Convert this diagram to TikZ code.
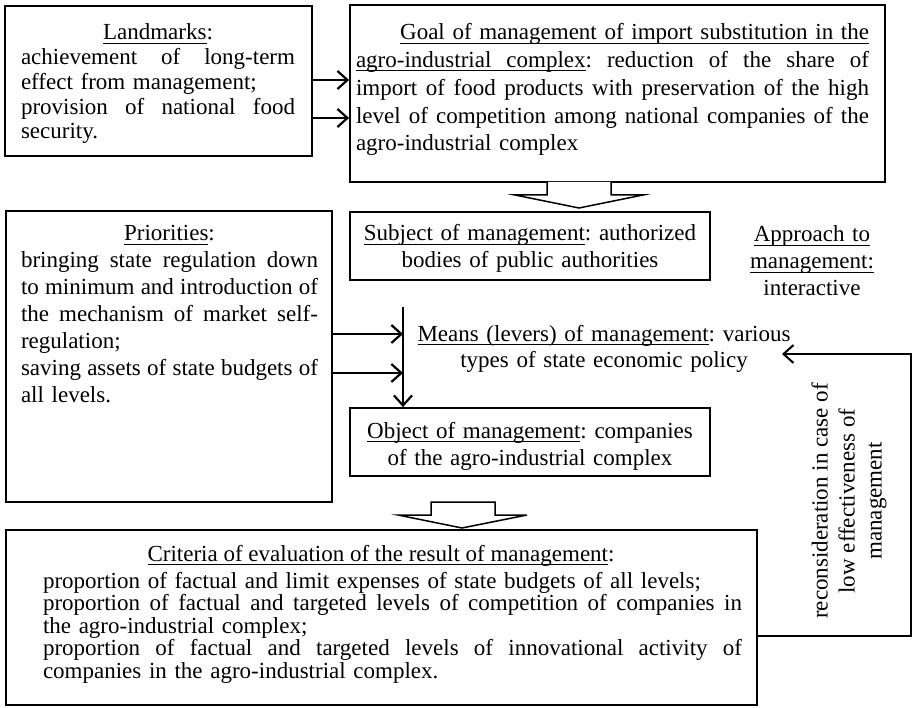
\documentclass[tikz,border=0pt]{standalone}
\usepackage{fontspec}
\setmainfont{Liberation Serif}
\usetikzlibrary{arrows.meta,calc}
\frenchspacing
\newcommand{\jl}[1]{\makebox[\linewidth][s]{\spaceskip=0pt\xspaceskip=0pt #1}}
\newcommand{\cl}[1]{\makebox[\linewidth][c]{#1}}
\newcommand{\rl}[1]{\makebox[\linewidth][r]{#1}}
\newcommand{\myul}[1]{\leavevmode\setbox0\hbox{#1}\rlap{\rule[-3.7pt]{\wd0}{1.1pt}}\box0}
\newcommand{\us}{\leaders\hrule height -2.6pt depth 3.7pt\hskip\fontdimen2\font plus\fontdimen3\font minus\fontdimen4\font}
\tikzset{
  box/.style={draw, line width=1.8pt, inner sep=0pt},
  txt/.style={inner sep=0pt, font={\fontsize{23}{27}\selectfont\frenchspacing}},
  arr/.style={line width=1.9pt, -{Straight Barb[length=10pt,width=18pt,line width=2.2pt]}},
  fb/.style={line width=1.4pt, -{Straight Barb[length=10pt,width=18pt,line width=2pt]}},
  hollow/.style={draw, line width=1.5pt, fill=white, line join=miter}
}
\begin{document}
\begin{tikzpicture}[x=1pt,y=-1pt]
\useasboundingbox (0,0) rectangle (912,708);
% boxes
\node[box, minimum width=307pt, minimum height=150pt] (lm) at (158.5,81) {};
\node[box, minimum width=535pt, minimum height=177pt] (goal) at (617.5,93.5) {};
\node[box, minimum width=360pt, minimum height=68pt] (subj) at (530,246) {};
\node[box, minimum width=326pt, minimum height=291pt] (prio) at (169,356.5) {};
\node[box, minimum width=360pt, minimum height=68pt] (obj) at (530,442) {};
\node[box, minimum width=751pt, minimum height=175pt] (crit) at (381.5,617.5) {};
% texts
\node[txt, text width=274pt, align=left, anchor=base, font={\fontsize{23}{24.75}\selectfont\frenchspacing}] (lmtext) at (158,40) {%
\cl{\myul{Landmarks}:}\\
\jl{achievement of long-term}\\
effect from management;\\
\jl{provision of national food}\\
security.};
\node[txt, text width=513pt, align=left, anchor=base, font={\fontsize{23}{27.75}\selectfont\frenchspacing}] (goaltext) at (612.5,40) {%
\rl{\myul{Goal of management of import substitution in the}}\\
\jl{\myul{agro-industrial}\us\myul{complex}: reduction of the share of}\\
\jl{import of food products with preservation of the high}\\
\jl{level of competition among national companies of the}\\
agro-industrial complex};
\node[txt, text width=360pt, align=center, anchor=base] (subjtext) at (530,241) {%
\myul{Subject of management}: authorized\\ bodies of public authorities};
\node[txt, text width=170pt, align=center, anchor=base] (appr) at (812,242) {%
\myul{Approach to}\\ \myul{management:}\\ interactive};
\node[txt, text width=297pt, align=left, anchor=base] (priotext) at (169.5,241) {%
\cl{\myul{Priorities}:}\\
\jl{bringing state regulation down}\\
\jl{to minimum and introduction of}\\
\jl{the mechanism of market self-}\\
regulation;\\
\jl{saving assets of state budgets of}\\
all levels.};
\node[txt, text width=380pt, align=center, anchor=base] (means) at (604,341) {%
\myul{Means (levers) of management}: various\\ types of state economic policy};
\node[txt, text width=360pt, align=center, anchor=base] (objtext) at (530,438) {%
\myul{Object of management}: companies\\ of the agro-industrial complex};
\node[txt, anchor=base] (crithead) at (381,561) {\myul{Criteria of evaluation of the result of management}:};
\node[txt, text width=699pt, align=left, anchor=base, font={\fontsize{23}{22.5}\selectfont\frenchspacing}] (crittext) at (392.5,588) {%
proportion of factual and limit expenses of state budgets of all levels;\\
\jl{proportion of factual and targeted levels of competition of companies in}\\
the agro-industrial complex;\\
\jl{proportion of factual and targeted levels of innovational activity of}\\
companies in the agro-industrial complex.};
\node[txt, align=center, rotate=90] (fbtext) at (849,501) {%
reconsideration in case of\\ low effectiveness of\\ management};
% helper coordinates
\coordinate (ya) at (0,80);
\coordinate (yb) at (0,118);
\coordinate (yc) at (0,334);
\coordinate (yd) at (0,373);
\coordinate (vtop) at (403,307);
\coordinate (fbin) at (782,354);
\coordinate (fbc1) at (911,636);
\coordinate (fbc2) at (911,354);
% connectors
\draw[arr] (lm.east |- ya) -- (goal.west |- ya);
\draw[arr] (lm.east |- yb) -- (goal.west |- yb);
\draw[arr] (prio.east |- yc) -- (vtop |- yc);
\draw[arr] (prio.east |- yd) -- (vtop |- yd);
\draw[arr] (vtop) -- (vtop |- obj.north);
\draw[fb] (crit.east |- fbc1) -- (fbc1) -- (fbc2) -- (fbin);
% hollow arrows
\draw[hollow] (547,182) -- (547,195) -- (515,195) -- (579,208) -- (643,195) -- (611,195) -- (611,182);
\draw[hollow] (431,502) -- (431,515) -- (398,515) -- (462,528) -- (527,515) -- (495,515) -- (495,502) -- cycle;
\end{tikzpicture}
\end{document}
